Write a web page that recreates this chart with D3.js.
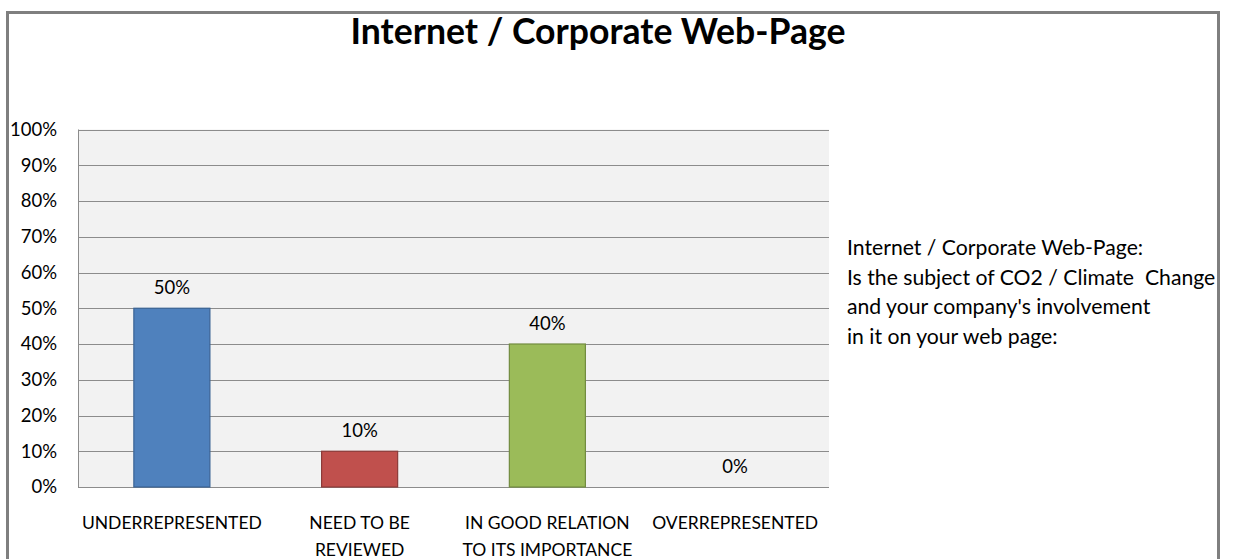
<!DOCTYPE html>
<html>
<head>
<meta charset="utf-8">
<script src="https://cdn.jsdelivr.net/npm/d3@7/dist/d3.min.js"></script>
<style>
  html, body { margin: 0; padding: 0; background: #fff; }
  svg { display: block; font-family: Lato, "Open Sans", sans-serif; }
</style>
</head>
<body>
<svg id="chart" width="1233" height="559"></svg>
<script>
// Survey answers and their shares
const categories = [
  ["UNDERREPRESENTED"],
  ["NEED TO BE", "REVIEWED"],
  ["IN GOOD RELATION", "TO ITS IMPORTANCE"],
  ["OVERREPRESENTED"]
];
const values = [0.50, 0.10, 0.40, 0.00];
const barColors = ["#4F81BD", "#C0504D", "#9BBB59", "#8064A2"];
const barStrokes = ["#3A6395", "#8C3B39", "#728C40", "#5E4A78"];
const yTicks = [0, 0.1, 0.2, 0.3, 0.4, 0.5, 0.6, 0.7, 0.8, 0.9, 1.0];
const titleText = "Internet / Corporate Web-Page";
const noteLines = [
  "Internet / Corporate Web-Page:",
  "Is the subject of CO2 / Climate  Change",
  "and your company's involvement",
  "in it on your web page:"
];

const svg = d3.select("#chart");
const plot = { left: 78, right: 829, top: 129.5, bottom: 487 };

// Outer frame
svg.append("rect")
  .attr("x", 7.5).attr("y", 12.5)
  .attr("width", 1211).attr("height", 600)
  .attr("fill", "#fff")
  .attr("stroke", "#7f7f7f").attr("stroke-width", 3);

// Title
svg.append("text")
  .attr("x", 598).attr("y", 44)
  .attr("text-anchor", "middle")
  .attr("font-size", 35.6).attr("font-weight", "bold")
  .attr("fill", "#000")
  .text(titleText);

const idx = categories.map((d, i) => i);
const x = d3.scaleBand().domain(idx).range([plot.left, plot.right]);
const y = d3.scaleLinear().domain([0, 1]).range([plot.bottom, plot.top]);
const barW = x.bandwidth() * 0.405;

// Plot background
svg.append("rect")
  .attr("x", plot.left).attr("y", plot.top)
  .attr("width", plot.right - plot.left).attr("height", plot.bottom - plot.top)
  .attr("fill", "#f2f2f2");

// Gridlines
svg.append("g")
  .selectAll("line").data(yTicks).join("line")
  .attr("x1", plot.left).attr("x2", plot.right)
  .attr("y1", d => Math.round(y(d)) + 0.5).attr("y2", d => Math.round(y(d)) + 0.5)
  .attr("stroke", "#8c8c8c").attr("stroke-width", 1);

// Left axis line
svg.append("line")
  .attr("x1", plot.left + 0.5).attr("x2", plot.left + 0.5)
  .attr("y1", plot.top).attr("y2", plot.bottom)
  .attr("stroke", "#8c8c8c");

// Y axis labels
const yAxis = d3.axisLeft(y).tickValues(yTicks).tickFormat(d3.format(".0%")).tickSize(0).tickPadding(21);
const yg = svg.append("g").attr("transform", `translate(${plot.left},0)`).call(yAxis);
yg.select(".domain").remove();
yg.selectAll("text").attr("font-size", 18.5).attr("fill", "#000").attr("font-family", "Lato, sans-serif");

// Bars
svg.append("g")
  .selectAll("rect").data(values).join("rect")
  .attr("x", (d, i) => x(i) + x.bandwidth() / 2 - barW / 2)
  .attr("y", d => y(d))
  .attr("width", barW)
  .attr("height", d => y(0) - y(d))
  .attr("fill", (d, i) => barColors[i])
  .attr("stroke", (d, i) => d > 0 ? barStrokes[i] : "none")
  .attr("stroke-width", 1.2);

// Value labels
svg.append("g")
  .selectAll("text").data(values).join("text")
  .attr("x", (d, i) => x(i) + x.bandwidth() / 2)
  .attr("y", d => y(d) - 14)
  .attr("text-anchor", "middle")
  .attr("font-size", 18.5).attr("fill", "#000")
  .text(d => d3.format(".0%")(d));

// Category labels
const cat = svg.append("g")
  .selectAll("text").data(categories).join("text")
  .attr("x", (d, i) => x(i) + x.bandwidth() / 2)
  .attr("y", 529)
  .attr("text-anchor", "middle")
  .attr("font-size", 17.5).attr("fill", "#000");
cat.selectAll("tspan").data(d => d).join("tspan")
  .attr("x", function () { return d3.select(this.parentNode).attr("x"); })
  .attr("dy", (d, j) => j === 0 ? 0 : 26.5)
  .text(d => d);

// Side note
svg.append("text")
  .attr("x", 847).attr("y", 255)
  .attr("font-size", 21.2).attr("fill", "#000")
  .selectAll("tspan").data(noteLines).join("tspan")
  .attr("x", 847)
  .attr("dy", (d, j) => j === 0 ? 0 : 29.6)
  .attr("xml:space", "preserve")
  .text(d => d);
</script>
</body>
</html>
